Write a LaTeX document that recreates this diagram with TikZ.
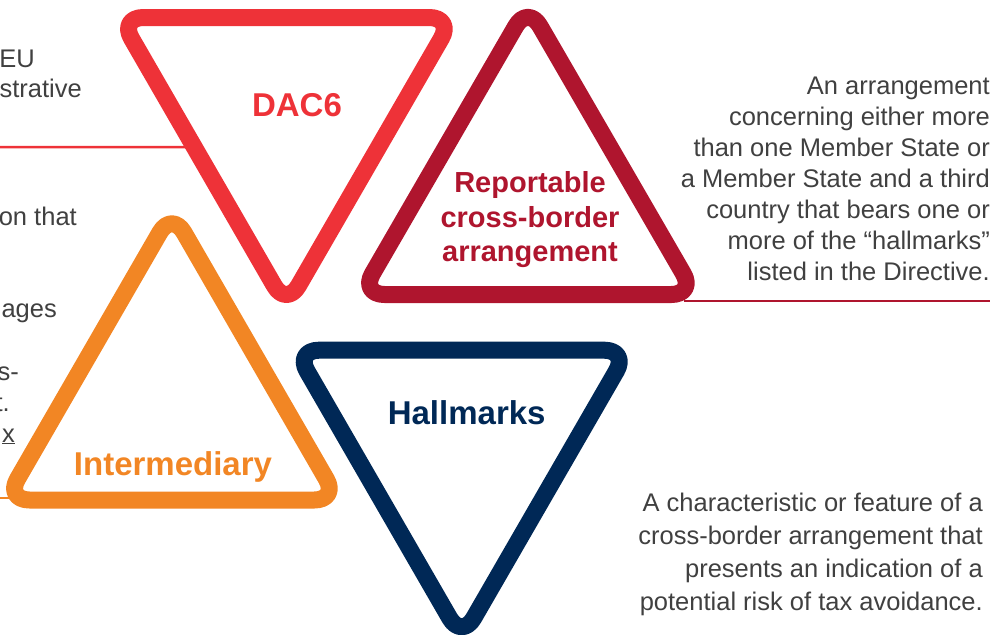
\documentclass[tikz,border=0pt]{standalone}
\usepackage{fontspec}
\setmainfont{Liberation Sans}
\usetikzlibrary{positioning, calc}
\definecolor{dacred}{RGB}{238, 50, 56}
\definecolor{reportred}{RGB}{175, 21, 46}
\definecolor{interorange}{RGB}{242, 134, 36}
\definecolor{hallnavy}{RGB}{0, 40, 86}
\definecolor{textgray}{RGB}{64, 64, 64}

\begin{document}
\begin{tikzpicture}[
    x=1pt, y=-1pt,
    tri/.style={line width=17pt, rounded corners=24pt, line join=round},
    tritext/.style={font=\bfseries\fontsize{33}{40}\selectfont, align=center, inner sep=0pt},
    desc/.style={font=\fontsize{25.5}{31}\selectfont, color=textgray, inner sep=0pt},
    textrule/.style={line width=2.5pt},
]
\useasboundingbox (0,0) rectangle (997,635);

% Corner points of the four triangles
\coordinate (dac-nw) at (119.4, 17.5);
\coordinate (dac-ne) at (453.4, 17.5);
\coordinate (dac-s) at (286.4, 306.7);
\coordinate (rep-sw) at (360.4, 294.5);
\coordinate (rep-n) at (527.9, 5.2);
\coordinate (rep-se) at (695.4, 294.5);
\coordinate (int-sw) at (5.4, 500);
\coordinate (int-n) at (171.9, 211.6);
\coordinate (int-se) at (338.4, 500);
\coordinate (hal-nw) at (295, 350.2);
\coordinate (hal-ne) at (628.4, 350.2);
\coordinate (hal-s) at (461.7, 638.9);

% Rules under the text blocks
\coordinate (dac-line) at (0, 147);
\coordinate (rep-line) at (990, 301);
\coordinate (rep-end) at (684, 301);
\coordinate (int-line) at (0, 498);
\coordinate (int-end) at (12, 498);
\draw[textrule, dacred] (dac-line) -- ($(dac-nw)!0.448!(dac-s)$);
\draw[textrule, reportred] (rep-end) -- (rep-line);
\draw[textrule, interorange] (int-line) -- (int-end);

% Triangles
\draw[tri, dacred] (dac-nw) -- (dac-ne) -- (dac-s) -- cycle;
\draw[tri, reportred] (rep-sw) -- (rep-n) -- (rep-se) -- cycle;
\draw[tri, interorange] (int-sw) -- (int-n) -- (int-se) -- cycle;
\draw[tri, hallnavy] (hal-nw) -- (hal-ne) -- (hal-s) -- cycle;

% Triangle labels
\node[tritext, dacred] (dac) at (297, 105) {DAC6};
\node[tritext, reportred, font=\bfseries\fontsize{29}{34.5}\selectfont] (report) at (530, 219.7) {Reportable\\cross-border\\arrangement};
\node[tritext, interorange] (inter) at (173, 466.5) {Intermediary};
\node[tritext, hallnavy] (hall) at (466.7, 413) {Hallmarks};

% Text on the left
\node[desc, anchor=base east] (frag-eu) at (35, 67) {EU};
\node[desc, anchor=base east] (frag-strative) at (82, 97) {strative};
\node[desc, anchor=base east] (frag-onthat) at (77, 225) {on that};
\node[desc, anchor=base east] (frag-ages) at (57, 317) {ages};
\node[desc, anchor=base east] (frag-s) at (19, 380) {s-};
\node[desc, anchor=base east] (frag-t) at (10, 411) {t.};
\node[desc, anchor=base east] (frag-x) at (15, 442) {\underline{x}};

% Text on the right
\node[desc, align=right, anchor=north east] (rep-desc) at (990, 76.7) {An arrangement\\concerning either more\\than one Member State or\\a Member State and a third\\country that bears one or\\more of the “hallmarks”\\listed in the Directive.};
\node[desc, align=right, anchor=north east, font=\fontsize{25.5}{33}\selectfont] (hall-desc) at (983, 493) {A characteristic or feature of a\\cross-border arrangement that\\presents an indication of a\\potential risk of tax avoidance.};

\end{tikzpicture}
\end{document}
